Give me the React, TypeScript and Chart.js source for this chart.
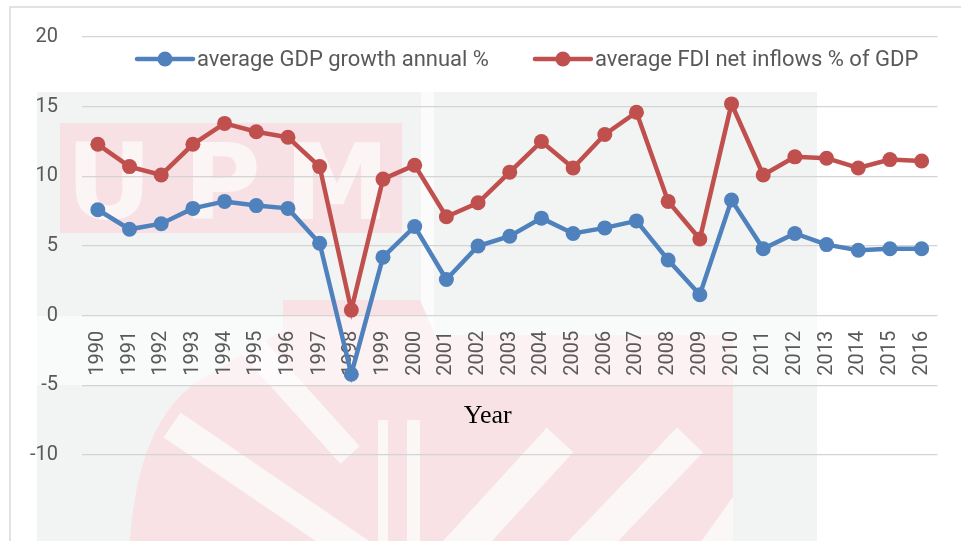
import React, { useEffect, useRef } from "react";
import { Chart, registerables } from "chart.js";

Chart.register(...registerables);

const years = ["1990", "1991", "1992", "1993", "1994", "1995", "1996", "1997", "1998", "1999", "2000", "2001", "2002", "2003", "2004", "2005", "2006", "2007", "2008", "2009", "2010", "2011", "2012", "2013", "2014", "2015", "2016"];
const gdpGrowth = [7.6, 6.2, 6.6, 7.7, 8.2, 7.9, 7.7, 5.2, -4.2, 4.2, 6.4, 2.6, 5.0, 5.7, 7.0, 5.9, 6.3, 6.8, 4.0, 1.5, 8.3, 4.8, 5.9, 5.1, 4.7, 4.8, 4.8];
const fdiInflows = [12.3, 10.7, 10.1, 12.3, 13.8, 13.2, 12.8, 10.7, 0.4, 9.8, 10.8, 7.1, 8.1, 10.3, 12.5, 10.6, 13.0, 14.6, 8.2, 5.5, 15.2, 10.1, 11.4, 11.3, 10.6, 11.2, 11.1];
const seriesLabels = ["average GDP growth annual %", "average FDI net inflows % of GDP"];
const seriesColors = ["#4f81bd", "#c0504d"];
const yMin = -10;
const yMax = 20;
const yStep = 5;
const xTitle = "Year";

const FONT = "Roboto, 'Open Sans', sans-serif";

const backgroundPlugin = {
  id: "bgWatermark",
  beforeDraw(chart: any) {
    const ctx = chart.ctx;
    ctx.save();
    ctx.fillStyle = "#ffffff";
    ctx.fillRect(0, 0, chart.width, chart.height);
    // faint watermark
    ctx.fillStyle = "#f2f3f3";
    ctx.fillRect(37, 92, 780, 460);
    ctx.fillStyle = "#fbfbfb";
    ctx.fillRect(421, 92, 13, 460);
    // pink block with letters
    ctx.fillStyle = "#f7e1e4";
    ctx.fillRect(60, 123, 342, 110);
    ctx.fillStyle = "#fbf5f5";
    ctx.font = "bold 106px 'DejaVu Sans', sans-serif";
    ctx.textAlign = "center";
    ctx.textBaseline = "alphabetic";
    ctx.fillText("U", 109, 219);
    ctx.fillText("P", 222, 219);
    ctx.fillText("M", 337, 219);
    // lower pink shape
    ctx.save();
    ctx.beginPath();
    ctx.moveTo(130, 541);
    ctx.quadraticCurveTo(138, 420, 200, 380);
    ctx.lineTo(283, 330);
    ctx.lineTo(283, 300);
    ctx.lineTo(420, 300);
    ctx.lineTo(435, 335);
    ctx.lineTo(733, 335);
    ctx.lineTo(733, 541);
    ctx.closePath();
    ctx.fillStyle = "#f8e2e5";
    ctx.fill();
    ctx.clip();
    ctx.strokeStyle = "#fbf7f7";
    ctx.lineCap = "butt";
    ctx.lineWidth = 26;
    ctx.beginPath();
    ctx.moveTo(170, 255);
    ctx.lineTo(350, 455);
    ctx.stroke();
    ctx.lineWidth = 30;
    ctx.beginPath();
    ctx.moveTo(172, 425);
    ctx.lineTo(385, 570);
    ctx.stroke();
    ctx.lineWidth = 36;
    [[450, 560, 560, 440], [575, 560, 690, 440], [710, 560, 810, 420]].forEach((s) => {
      ctx.beginPath();
      ctx.moveTo(s[0], s[1]);
      ctx.lineTo(s[2], s[3]);
      ctx.stroke();
    });
    ctx.fillStyle = "#fbf7f7";
    ctx.fillRect(378, 420, 10, 130);
    ctx.fillRect(407, 420, 13, 130);
    ctx.restore();
    // lighter band behind category labels
    ctx.fillStyle = "rgba(255,255,255,0.55)";
    ctx.fillRect(37, 316, 780, 69);
    ctx.restore();
    // frame
    ctx.save();
    ctx.strokeStyle = "#d9d9d9";
    ctx.lineWidth = 1.5;
    ctx.strokeRect(10, 7, 1200, 1000);
    ctx.restore();
  },
};

const legendAndTitlePlugin = {
  id: "customLegend",
  afterDraw(chart: any) {
    const ctx = chart.ctx;
    ctx.save();
    ctx.font = `22px ${FONT}`;
    ctx.textBaseline = "middle";
    ctx.textAlign = "left";
    let x = 137;
    const y = 59;
    chart.data.datasets.forEach((ds: any) => {
      ctx.strokeStyle = ds.borderColor;
      ctx.lineWidth = 4.5;
      ctx.lineCap = "round";
      ctx.beginPath();
      ctx.moveTo(x, y);
      ctx.lineTo(x + 56, y);
      ctx.stroke();
      ctx.fillStyle = ds.borderColor;
      ctx.beginPath();
      ctx.arc(x + 28, y, 7.5, 0, Math.PI * 2);
      ctx.fill();
      ctx.fillStyle = "#595959";
      ctx.fillText(ds.label, x + 60, y + 1);
      x += 60 + ctx.measureText(ds.label).width + 46;
    });
    // axis title
    const area = chart.chartArea;
    const yScale = chart.scales.y;
    ctx.fillStyle = "#000000";
    ctx.font = "26px 'Liberation Serif', 'Times New Roman', serif";
    ctx.textAlign = "center";
    ctx.textBaseline = "alphabetic";
    ctx.fillText(xTitle, (area.left + area.right) / 2 - 22, yScale.getPixelForValue(0) + 107);
    ctx.restore();
  },
};

export default function App() {
  const canvasRef = useRef<HTMLCanvasElement | null>(null);

  useEffect(() => {
    document.body.style.margin = "0";
    const canvas = canvasRef.current;
    if (!canvas) return;
    const chart = new Chart(canvas, {
      type: "line",
      data: {
        labels: years,
        datasets: [
          {
            label: seriesLabels[0],
            data: gdpGrowth,
            borderColor: seriesColors[0],
            backgroundColor: seriesColors[0],
            borderWidth: 4.5,
            pointRadius: 7.5,
            pointHoverRadius: 7.5,
            pointBorderWidth: 0,
            tension: 0,
          },
          {
            label: seriesLabels[1],
            data: fdiInflows,
            borderColor: seriesColors[1],
            backgroundColor: seriesColors[1],
            borderWidth: 4.5,
            pointRadius: 7.5,
            pointHoverRadius: 7.5,
            pointBorderWidth: 0,
            tension: 0,
          },
        ],
      },
      options: {
        animation: false,
        responsive: false,
        devicePixelRatio: 1,
        layout: { padding: { top: 37, left: 0, right: 20, bottom: 86 } },
        plugins: {
          legend: { display: false },
          tooltip: { enabled: false },
        },
        scales: {
          x: {
            type: "category",
            position: { y: 0 } as any,
            offset: true,
            grid: { display: false, drawTicks: false },
            border: { display: false },
            ticks: {
              minRotation: 90,
              maxRotation: 90,
              autoSkip: false,
              padding: 15,
              color: "#595959",
              font: { family: FONT, size: 20 },
            },
          },
          y: {
            min: yMin,
            max: yMax,
            afterFit(scale: any) {
              scale.width = 82;
            },
            grid: { color: "#d4d4d4", lineWidth: 1.3, drawTicks: false },
            border: { display: false },
            ticks: {
              stepSize: yStep,
              padding: 24,
              color: "#595959",
              font: { family: FONT, size: 20 },
            },
          },
        },
      },
      plugins: [backgroundPlugin, legendAndTitlePlugin],
    });
    return () => chart.destroy();
  }, []);

  return (
    <div style={{ position: "fixed", left: 0, top: 0, width: 961, height: 541 }}>
      <canvas ref={canvasRef} width={961} height={541} />
    </div>
  );
}
